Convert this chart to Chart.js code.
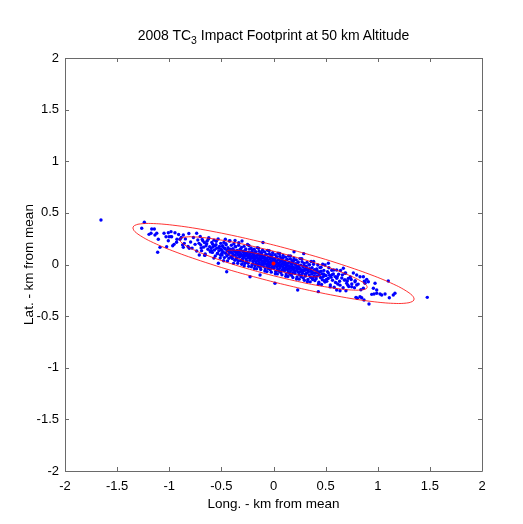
<!DOCTYPE html>
<html>
<head>
<meta charset="utf-8">
<script src="https://cdn.jsdelivr.net/npm/chart.js@4/dist/chart.umd.min.js"></script>
<style>
  html, body { margin: 0; padding: 0; background: #fff; }
  #wrap { position: relative; width: 523px; height: 524px; }
  #plotTitle {
    position: absolute; left: 65px; width: 417px; top: 27px;
    text-align: center; font: 14px "Liberation Sans", Arial, sans-serif;
    line-height: 16px; color: #000; white-space: nowrap;
  }
  #plotTitle sub { font-size: 10.5px; vertical-align: -4px; line-height: 0; }
</style>
</head>
<body>
<div id="wrap">
  <canvas id="footprintChart" width="523" height="524"></canvas>
  <div id="plotTitle">2008 TC<sub>3</sub> Impact Footprint at 50 km Altitude</div>
</div>
<script>
const longTicks = [-2, -1.5, -1, -0.5, 0, 0.5, 1, 1.5, 2];
const latTicks = [-2, -1.5, -1, -0.5, 0, 0.5, 1, 1.5, 2];
const longTitle = "Long. - km from mean";
const latTitle = "Lat. - km from mean";

// impact points [long, lat] in km
const impactPoints = [
  [-1.655, 0.431], [-1.239, 0.409], [-1.264, 0.351], [-1.168, 0.344], [-1.143, 0.344], [-1.175, 0.302],
  [-1.194, 0.292], [-1.137, 0.286], [-1.105, 0.244], [-1.12, 0.302], [-1.05, 0.302], [-1.009, 0.308],
  [-0.983, 0.318], [-0.945, 0.308], [-1.031, 0.269], [-1.002, 0.269], [-0.977, 0.269], [-1.009, 0.23],
  [-0.926, 0.244], [-0.954, 0.195], [-0.967, 0.182], [-1.025, 0.172], [-1.089, 0.166], [-1.111, 0.118],
  [-0.897, 0.244], [-0.865, 0.286], [-0.856, 0.205], [-0.865, 0.166], [-0.737, 0.302], [-0.808, 0.157],
  [-0.712, 0.092], [-0.657, 0.092], [-0.529, 0.012], [-0.449, -0.07], [-0.225, -0.118], [-0.101, 0.213],
  [-0.302, 0.228], [-0.129, -0.102],
  [1.475, -0.318], [1.101, -0.16], [1.165, -0.279], [1.149, -0.295], [1.111, -0.322], [1.07, -0.286],
  [0.974, -0.182], [0.958, -0.23], [0.99, -0.247], [1.022, -0.286], [0.964, -0.286], [0.916, -0.383],
  [0.83, -0.312], [0.791, -0.318], [0.868, -0.344], [0.878, -0.167], [0.894, -0.144], [0.862, -0.118],
  [0.83, -0.118], [0.798, -0.102], [0.782, -0.167], [0.718, -0.134], [0.702, -0.182], [0.695, -0.254],
  [0.638, -0.254], [0.606, -0.247], [0.686, -0.085], [0.67, -0.037], [0.606, -0.053], [0.43, -0.263],
  [0.232, -0.247], [0.014, -0.182], [0.29, 0.105], [0.197, 0.124], [0.526, 0.012], [0.494, -0.005],
  [0.804, -0.327], [0.846, -0.322], [1.038, -0.295], [0.99, -0.279], [0.942, -0.289], [0.91, -0.167],
  [0.878, -0.182], [0.862, -0.23], [0.798, -0.198], [0.75, -0.215],
  [-0.985, 0.27], [-0.93, 0.215], [-0.91, 0.29],
  [-0.885, 0.262], [-0.872, 0.19], [-0.845, 0.248], [-0.82, 0.175], [-0.812, 0.3],
  [-0.795, 0.218], [-0.781, 0.159], [-0.768, 0.262], [-0.752, 0.195], [-0.737, 0.131], [-0.726, 0.238],
  [-0.714, 0.205], [-0.703, 0.271],
  [-0.698, 0.19], [-0.69, 0.134], [-0.684, 0.243], [-0.671, 0.168], [-0.663, 0.212], [-0.655, 0.102],
  [-0.647, 0.181], [-0.638, 0.226], [-0.629, 0.148], [-0.621, 0.259], [-0.612, 0.173], [-0.604, 0.122],
  [-0.597, 0.159], [-0.592, 0.214], [-0.586, 0.117], [-0.579, 0.171], [-0.571, 0.236], [-0.566, 0.141],
  [-0.558, 0.083], [-0.551, 0.192], [-0.545, 0.158], [-0.538, 0.107], [-0.531, 0.247], [-0.524, 0.133],
  [-0.518, 0.176], [-0.511, 0.062], [-0.506, 0.205], [-0.502, 0.145],
  [-0.498, 0.138], [-0.493, 0.092], [-0.488, 0.181], [-0.482, 0.121], [-0.476, 0.214], [-0.471, 0.067],
  [-0.465, 0.152], [-0.459, 0.109], [-0.454, 0.191], [-0.447, 0.134], [-0.441, 0.035], [-0.436, 0.163],
  [-0.43, 0.098], [-0.424, 0.228], [-0.419, 0.117], [-0.413, 0.147], [-0.408, 0.074], [-0.404, 0.186],
  [-0.429, 0.128], [-0.462, 0.245],
  [-0.398, 0.112], [-0.394, 0.058], [-0.389, 0.154], [-0.385, 0.097], [-0.38, 0.201], [-0.376, 0.128],
  [-0.371, 0.041], [-0.367, 0.089], [-0.362, 0.171], [-0.357, 0.112], [-0.352, 0.066], [-0.348, 0.137],
  [-0.343, 0.012], [-0.338, 0.095], [-0.334, 0.186], [-0.329, 0.118], [-0.325, 0.072], [-0.32, 0.149],
  [-0.316, 0.037], [-0.311, 0.104], [-0.307, 0.165], [-0.303, 0.084], [-0.369, 0.232], [-0.339, 0.128],
  [-0.298, 0.087], [-0.295, 0.031], [-0.291, 0.129], [-0.287, 0.068], [-0.283, 0.176], [-0.279, 0.102],
  [-0.276, 0.009], [-0.272, 0.081], [-0.268, 0.142], [-0.264, 0.053], [-0.26, 0.11], [-0.257, 0.021],
  [-0.253, 0.094], [-0.249, 0.193], [-0.245, 0.062], [-0.241, 0.118], [-0.238, -0.018], [-0.234, 0.077],
  [-0.23, 0.149], [-0.226, 0.04], [-0.222, 0.104], [-0.219, 0.058], [-0.215, 0.161], [-0.211, 0.083],
  [-0.207, -0.005], [-0.203, 0.122], [-0.244, 0.089],
  [-0.198, 0.062], [-0.195, 0.011], [-0.192, 0.105], [-0.188, 0.041], [-0.185, 0.148], [-0.182, 0.079],
  [-0.178, -0.012], [-0.175, 0.055], [-0.172, 0.118], [-0.168, 0.027], [-0.165, 0.086], [-0.162, -0.041],
  [-0.158, 0.069], [-0.155, 0.163], [-0.152, 0.036], [-0.148, 0.097], [-0.145, 0.002], [-0.142, 0.051],
  [-0.138, 0.129], [-0.135, 0.018], [-0.132, 0.078], [-0.128, -0.026], [-0.125, 0.044], [-0.122, 0.112],
  [-0.118, 0.059], [-0.115, -0.003], [-0.112, 0.087], [-0.108, 0.031], [-0.105, 0.139], [-0.102, 0.066],
  [-0.098, 0.035], [-0.095, -0.018], [-0.092, 0.081], [-0.089, 0.014], [-0.086, 0.122], [-0.082, 0.049],
  [-0.079, -0.043], [-0.076, 0.028], [-0.073, 0.094], [-0.07, 0.002], [-0.066, 0.061], [-0.063, -0.069],
  [-0.06, 0.042], [-0.057, 0.137], [-0.053, 0.009], [-0.05, 0.071], [-0.047, -0.028], [-0.044, 0.024],
  [-0.04, 0.104], [-0.037, -0.007], [-0.034, 0.052], [-0.031, -0.052], [-0.027, 0.018], [-0.024, 0.089],
  [-0.021, 0.033], [-0.018, -0.029], [-0.015, 0.063], [-0.011, 0.006], [-0.008, 0.115], [-0.005, 0.041],
  [-0.002, -0.012],
  [0.002, 0.021], [0.005, -0.036], [0.008, 0.058], [0.011, -0.009], [0.015, 0.096], [0.018, 0.024],
  [0.021, -0.068], [0.024, 0.004], [0.028, 0.071], [0.031, -0.022], [0.034, 0.038], [0.037, -0.091],
  [0.041, 0.012], [0.044, 0.109], [0.047, -0.016], [0.05, 0.046], [0.053, -0.055], [0.057, -0.002],
  [0.06, 0.079], [0.063, -0.033], [0.066, 0.027], [0.07, -0.078], [0.073, -0.011], [0.076, 0.062],
  [0.079, 0.006], [0.083, -0.054], [0.086, 0.036], [0.089, -0.024], [0.092, 0.088], [0.095, 0.015],
  [0.098, -0.039],
  [0.102, -0.006], [0.105, -0.061], [0.108, 0.033], [0.112, -0.034], [0.115, 0.071], [0.118, -0.003],
  [0.122, -0.093], [0.125, -0.022], [0.128, 0.045], [0.132, -0.048], [0.135, 0.012], [0.138, -0.116],
  [0.142, -0.013], [0.145, 0.083], [0.148, -0.041], [0.152, 0.021], [0.155, -0.081], [0.158, -0.027],
  [0.162, 0.054], [0.165, -0.059], [0.168, 0.001], [0.172, -0.104], [0.175, -0.037], [0.178, 0.036],
  [0.182, -0.019], [0.185, -0.079], [0.188, 0.011], [0.192, -0.05], [0.196, 0.062],
  [0.202, -0.031], [0.206, -0.086], [0.21, 0.008], [0.214, -0.059], [0.218, 0.045], [0.222, -0.029],
  [0.226, -0.12], [0.23, -0.048], [0.234, 0.019], [0.238, -0.074], [0.242, -0.014], [0.246, -0.142],
  [0.25, -0.039], [0.254, 0.057], [0.258, -0.068], [0.262, -0.006], [0.266, -0.107], [0.27, -0.053],
  [0.274, 0.027], [0.278, -0.085], [0.282, -0.025], [0.286, -0.131], [0.29, -0.064], [0.294, 0.009],
  [0.298, -0.046],
  [0.303, -0.056], [0.307, -0.112], [0.312, -0.017], [0.316, -0.085], [0.321, 0.021], [0.325, -0.054],
  [0.33, -0.146], [0.334, -0.073], [0.339, -0.004], [0.343, -0.1], [0.348, -0.04], [0.352, -0.168],
  [0.357, -0.065], [0.361, 0.029], [0.366, -0.093], [0.37, -0.032], [0.375, -0.133], [0.379, -0.079],
  [0.384, 0.002], [0.388, -0.111], [0.393, -0.05], [0.397, -0.155],
  [0.404, -0.082], [0.409, -0.137], [0.414, -0.043], [0.419, -0.11], [0.425, -0.005], [0.43, -0.079],
  [0.435, -0.172], [0.44, -0.098], [0.446, -0.03], [0.451, -0.126], [0.456, -0.066], [0.461, -0.194],
  [0.467, -0.091], [0.472, 0.002], [0.477, -0.118], [0.483, -0.057], [0.488, -0.158], [0.494, -0.104],
  [0.504, -0.108], [0.511, -0.163], [0.518, -0.069], [0.525, -0.136], [0.531, -0.031], [0.538, -0.105],
  [0.545, -0.198], [0.552, -0.124], [0.559, -0.056], [0.566, -0.152], [0.574, -0.092], [0.582, -0.221],
  [0.591, -0.117],
  [0.607, -0.133], [0.616, -0.189], [0.625, -0.094], [0.634, -0.162], [0.643, -0.058], [0.655, -0.131],
  [0.668, -0.225], [0.679, -0.15], [0.692, -0.083],
  [0.708, -0.159], [0.722, -0.214], [0.737, -0.12], [0.751, -0.188], [0.766, -0.083], [0.784, -0.156],
  [0.812, -0.19], [0.838, -0.245], [0.871, -0.162],
  [-0.694, 0.161], [-0.678, 0.229], [-0.66, 0.088], [-0.641, 0.2], [-0.626, 0.244], [-0.608, 0.131],
  [-0.595, 0.134], [-0.583, 0.196], [-0.572, 0.062], [-0.561, 0.183], [-0.549, 0.225], [-0.536, 0.107],
  [-0.522, 0.163], [-0.508, 0.09],
  [-0.496, 0.108], [-0.487, 0.172], [-0.478, 0.036], [-0.469, 0.157], [-0.457, 0.201], [-0.448, 0.082],
  [-0.439, 0.139], [-0.427, 0.061], [-0.418, 0.23], [-0.406, 0.121],
  [-0.397, 0.08], [-0.391, 0.146], [-0.383, 0.011], [-0.374, 0.131], [-0.366, 0.176], [-0.358, 0.056],
  [-0.35, 0.113], [-0.341, 0.036], [-0.333, 0.21], [-0.322, 0.093], [-0.314, 0.138], [-0.305, 0.003],
  [-0.297, 0.056], [-0.289, 0.121], [-0.281, -0.014], [-0.273, 0.106], [-0.265, 0.151], [-0.258, 0.032],
  [-0.25, 0.088], [-0.243, 0.011], [-0.236, 0.184], [-0.228, 0.07], [-0.22, 0.115], [-0.212, -0.023],
  [-0.204, 0.141],
  [-0.197, 0.031], [-0.19, 0.096], [-0.183, -0.039], [-0.176, 0.081], [-0.17, 0.125], [-0.163, 0.007],
  [-0.156, 0.062], [-0.149, -0.015], [-0.143, 0.158], [-0.136, 0.044], [-0.129, 0.089], [-0.122, -0.048],
  [-0.114, 0.115], [-0.106, 0.012],
  [-0.097, 0.006], [-0.09, 0.071], [-0.083, -0.064], [-0.076, 0.056], [-0.069, 0.1], [-0.062, -0.018],
  [-0.055, 0.037], [-0.048, -0.04], [-0.042, 0.133], [-0.035, 0.019], [-0.028, 0.063], [-0.021, -0.074],
  [-0.013, 0.09], [-0.006, -0.013],
  [0.004, -0.02], [0.011, 0.045], [0.018, -0.09], [0.025, 0.03], [0.032, 0.075], [0.039, -0.045],
  [0.046, 0.011], [0.053, -0.066], [0.06, 0.107], [0.067, -0.007], [0.074, 0.037], [0.081, -0.1],
  [0.088, 0.064], [0.095, -0.039],
  [0.103, -0.046], [0.111, 0.02], [0.118, -0.115], [0.126, 0.005], [0.133, 0.05], [0.141, -0.07],
  [0.148, -0.014], [0.156, -0.092], [0.163, 0.082], [0.171, -0.033], [0.178, 0.012], [0.186, -0.126],
  [0.194, 0.039],
  [0.204, -0.071], [0.212, -0.006], [0.221, -0.141], [0.229, -0.021], [0.237, 0.024], [0.246, -0.096],
  [0.254, -0.04], [0.263, -0.118], [0.271, 0.056], [0.279, -0.059], [0.288, -0.014], [0.296, -0.152],
  [0.305, -0.097], [0.315, -0.032], [0.325, -0.166], [0.335, -0.046], [0.345, -0.002], [0.355, -0.123],
  [0.365, -0.066], [0.375, -0.145], [0.385, 0.03], [0.395, -0.084],
  [0.406, -0.121], [0.418, -0.057], [0.431, -0.192], [0.443, -0.072], [0.456, -0.027], [0.468, -0.148],
  [0.481, -0.092], [0.493, -0.17],
  [0.508, -0.146], [0.526, -0.082], [0.544, -0.217], [0.562, -0.098], [0.578, -0.053], [0.595, -0.174],
  [0.612, -0.117], [0.638, -0.2], [0.661, -0.1], [0.688, -0.15],
  [0.714, -0.2], [0.745, -0.146], [0.777, -0.225]
];

// mean of the footprint
const meanPoint = [[0, 0.01]];

// error ellipses (outer, middle, inner)
const ellipseOuter = [
  [-1.349, 0.354], [-1.34, 0.373], [-1.33, 0.379], [-1.3, 0.39], [-1.25, 0.396], [-1.2, 0.398],
  [-1.1, 0.394], [-1.0, 0.385], [-0.85, 0.366], [-0.7, 0.342], [-0.5, 0.304], [-0.3, 0.261],
  [0, 0.189], [0.3, 0.108], [0.5, 0.049], [0.7, -0.016], [0.85, -0.068], [1.0, -0.125],
  [1.1, -0.167], [1.2, -0.214], [1.25, -0.242], [1.3, -0.274], [1.33, -0.299], [1.34, -0.311],
  [1.349, -0.334], [1.34, -0.353], [1.33, -0.359], [1.3, -0.37], [1.25, -0.376], [1.2, -0.378],
  [1.1, -0.374], [1.0, -0.365], [0.85, -0.346], [0.7, -0.322], [0.5, -0.284], [0.3, -0.241],
  [0, -0.169], [-0.3, -0.088], [-0.5, -0.029], [-0.7, 0.036], [-0.85, 0.088], [-1.0, 0.145],
  [-1.1, 0.187], [-1.2, 0.234], [-1.25, 0.262], [-1.3, 0.294], [-1.33, 0.319], [-1.34, 0.331],
  [-1.349, 0.354]
];
const ellipseMiddle = [
  [-0.899, 0.239], [-0.893, 0.252], [-0.887, 0.256], [-0.867, 0.263], [-0.833, 0.267], [-0.8, 0.269],
  [-0.733, 0.266], [-0.667, 0.26], [-0.567, 0.247], [-0.467, 0.231], [-0.333, 0.206], [-0.2, 0.177],
  [0, 0.129], [0.2, 0.075], [0.333, 0.036], [0.467, -0.007], [0.567, -0.042], [0.667, -0.08],
  [0.733, -0.108], [0.8, -0.139], [0.833, -0.158], [0.867, -0.179], [0.887, -0.196], [0.893, -0.204],
  [0.899, -0.219], [0.893, -0.232], [0.887, -0.236], [0.867, -0.243], [0.833, -0.247], [0.8, -0.249],
  [0.733, -0.246], [0.667, -0.24], [0.567, -0.227], [0.467, -0.211], [0.333, -0.186], [0.2, -0.157],
  [0, -0.109], [-0.2, -0.055], [-0.333, -0.016], [-0.467, 0.027], [-0.567, 0.062], [-0.667, 0.1],
  [-0.733, 0.128], [-0.8, 0.159], [-0.833, 0.178], [-0.867, 0.199], [-0.887, 0.216], [-0.893, 0.224],
  [-0.899, 0.239]
];
const ellipseInner = [
  [-0.45, 0.125], [-0.447, 0.131], [-0.443, 0.133], [-0.433, 0.137], [-0.417, 0.139], [-0.4, 0.139],
  [-0.367, 0.138], [-0.333, 0.135], [-0.283, 0.129], [-0.233, 0.121], [-0.167, 0.108], [-0.1, 0.094],
  [0, 0.07], [0.1, 0.043], [0.167, 0.023], [0.233, 0.001], [0.283, -0.016], [0.333, -0.035],
  [0.367, -0.049], [0.4, -0.065], [0.417, -0.074], [0.433, -0.085], [0.443, -0.093], [0.447, -0.097],
  [0.45, -0.105], [0.447, -0.111], [0.443, -0.113], [0.433, -0.117], [0.417, -0.119], [0.4, -0.119],
  [0.367, -0.118], [0.333, -0.115], [0.283, -0.109], [0.233, -0.101], [0.167, -0.088], [0.1, -0.074],
  [0, -0.05], [-0.1, -0.023], [-0.167, -0.003], [-0.233, 0.019], [-0.283, 0.036], [-0.333, 0.055],
  [-0.367, 0.069], [-0.4, 0.085], [-0.417, 0.094], [-0.433, 0.105], [-0.443, 0.113], [-0.447, 0.117],
  [-0.45, 0.125]
];

function toXY(pairs) {
  return pairs.map((p) => ({ x: p[0], y: p[1] }));
}

function ellipseDataset(pairs) {
  return {
    type: "line",
    data: toXY(pairs),
    borderColor: "rgba(255,0,0,0.8)",
    borderWidth: 1,
    pointRadius: 0,
    tension: 0.25,
    fill: false,
    order: 1
  };
}

// MATLAB-style box with inward ticks on all four sides
const boxPlugin = {
  id: "matlabBox",
  afterDatasetsDraw(chart) {
    const { ctx, chartArea: a, scales } = chart;
    const tl = 4;
    ctx.save();
    ctx.strokeStyle = "#6a6a6a";
    ctx.lineWidth = 1;
    ctx.beginPath();
    ctx.rect(Math.round(a.left) + 0.5, Math.round(a.top) + 0.5,
      Math.round(a.right - a.left), Math.round(a.bottom - a.top));
    longTicks.forEach((v) => {
      const px = Math.round(scales.x.getPixelForValue(v)) + 0.5;
      ctx.moveTo(px, a.bottom);
      ctx.lineTo(px, a.bottom - tl);
      ctx.moveTo(px, a.top);
      ctx.lineTo(px, a.top + tl);
    });
    latTicks.forEach((v) => {
      const py = Math.round(scales.y.getPixelForValue(v)) + 0.5;
      ctx.moveTo(a.left, py);
      ctx.lineTo(a.left + tl, py);
      ctx.moveTo(a.right, py);
      ctx.lineTo(a.right - tl, py);
    });
    ctx.stroke();
    ctx.restore();
  }
};

function plainTick(value) {
  return `${value}`;
}

document.addEventListener("DOMContentLoaded", () => {
  Chart.defaults.font.family = '"Liberation Sans", Arial, sans-serif';
  Chart.defaults.font.size = 13;
  Chart.defaults.color = "#000";

  new Chart(document.getElementById("footprintChart"), {
    type: "scatter",
    data: {
      datasets: [
        {
          data: toXY(impactPoints),
          backgroundColor: "#0000ff",
          borderWidth: 0,
          pointRadius: 1.7,
          order: 2
        },
        ellipseDataset(ellipseOuter),
        ellipseDataset(ellipseMiddle),
        ellipseDataset(ellipseInner),
        {
          data: toXY(meanPoint),
          backgroundColor: "#ff0000",
          borderWidth: 0,
          pointRadius: 2,
          order: 0
        }
      ]
    },
    options: {
      responsive: false,
      animation: false,
      events: [],
      layout: { padding: { top: 58, right: 41, left: 0, bottom: 0 } },
      plugins: { legend: { display: false }, tooltip: { enabled: false } },
      scales: {
        x: {
          type: "linear",
          min: -2,
          max: 2,
          afterBuildTicks: (scale) => { scale.ticks = longTicks.map((v) => ({ value: v })); },
          afterFit: (scale) => { scale.height = 53; },
          grid: { display: false, drawTicks: false },
          border: { display: false },
          ticks: { padding: 8, maxRotation: 0, autoSkip: false, callback: plainTick },
          title: { display: true, text: longTitle, font: { size: 13.5 }, padding: { top: 0, bottom: 12 } }
        },
        y: {
          type: "linear",
          min: -2,
          max: 2,
          afterBuildTicks: (scale) => { scale.ticks = latTicks.map((v) => ({ value: v })); },
          afterFit: (scale) => { scale.width = 65; },
          grid: { display: false, drawTicks: false },
          border: { display: false },
          ticks: { padding: 6, autoSkip: false, callback: plainTick },
          title: { display: true, text: latTitle, font: { size: 13.5 }, padding: { top: 21, bottom: 0 } }
        }
      }
    },
    plugins: [boxPlugin]
  });
});
</script>
</body>
</html>
